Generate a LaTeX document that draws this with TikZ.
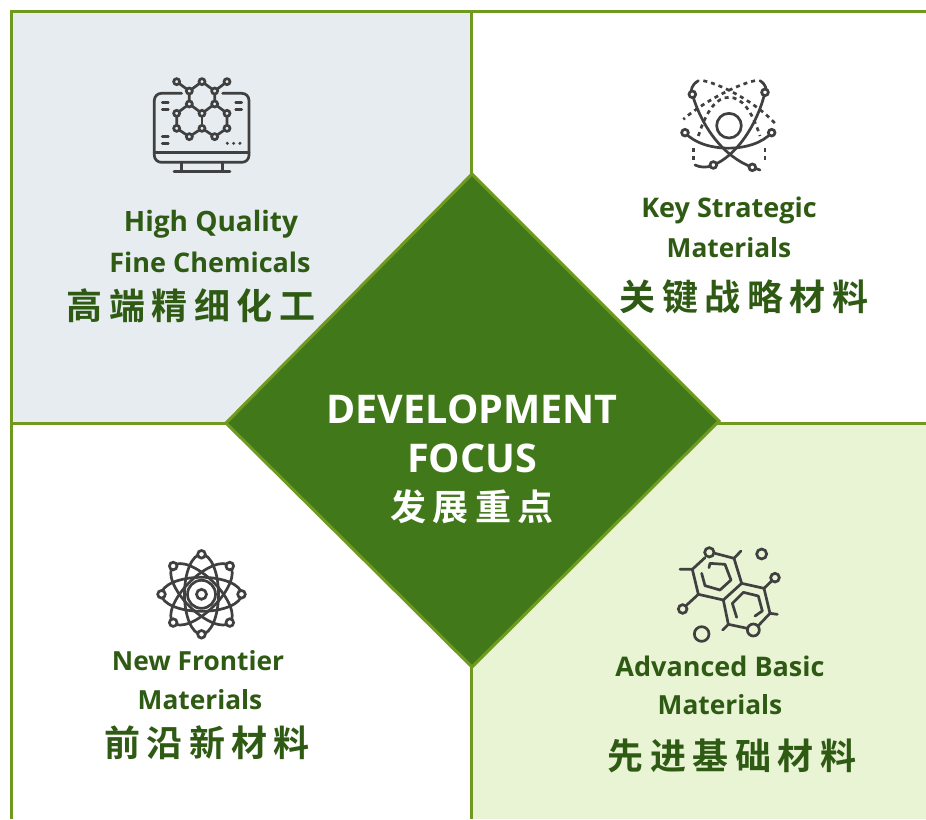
\documentclass[tikz,border=0pt]{standalone}
\usepackage{fontspec}
\setmainfont{Open Sans}
\newfontfamily\cjk[LetterSpace=18,BoldFont={Noto Sans CJK SC Bold}]{Noto Sans CJK SC}
\definecolor{rule}{HTML}{6F9A1F}
\definecolor{dia}{HTML}{41791A}
\definecolor{lab}{HTML}{2E5A13}
\definecolor{panelA}{HTML}{E6ECEF}
\definecolor{panelB}{HTML}{E8F4D4}
\definecolor{ico}{HTML}{404040}
\tikzset{
  rulel/.style={draw=rule,line width=3pt},
  en/.style={font=\bfseries\fontsize{27}{27}\selectfont,text=lab,inner sep=0pt,anchor=center},
  enw/.style={en,font=\bfseries\fontsize{28}{28}\selectfont},
  enm/.style={en,font=\bfseries\fontsize{26.3}{26.3}\selectfont},
  big/.style={font=\bfseries\fontsize{39.5}{39.5}\selectfont,text=white,inner sep=0pt,anchor=center},
  zh/.style={font=\cjk\bfseries\fontsize{36}{36}\selectfont,text=lab,inner sep=0pt,anchor=center},
  icon/.style={draw=ico,line width=2.7pt,line cap=round,line join=round,fill=none},
  dot/.style={draw=ico,line width=2.7pt,fill=none},
  dsh/.style={icon,dash pattern=on 4pt off 4pt,line cap=butt},
  zoomed/.style={x=0.3333pt,y=-0.3333pt}
}
\begin{document}
\begin{tikzpicture}[x=1pt,y=-1pt]
\useasboundingbox (0,0) rectangle (926,819);
\fill[white] (0,0) rectangle (926,819);
% panels
\fill[panelA] (11,11) rectangle (471,423);
\fill[panelB] (471,423) rectangle (926,819);
\draw[rulel] (926,11) -- (11,11) -- (11,819);
\draw[rulel] (471,11) -- (471,819);
\draw[rulel] (11,423) -- (926,423);
% diamond
\path[draw=rule,line width=3pt,fill=dia,line join=miter] (226,423) -- (472,174) -- (719,421) -- (472,667) -- cycle;
% centre text
\node[big] (t1) at (472,409) {DEVELOPMENT};
\node[big] (t2) at (472,458) {FOCUS};
\node[zh,text=white] (t3) at (472,507) {发展重点};
% labels
\node[enw] (a1) at (211,224) {High Quality};
\node[en] (a2) at (210,262) {Fine Chemicals};
\node[zh] (a3) at (191,306) {高端精细化工};
\node[en] (b1) at (729,210) {Key Strategic};
\node[enm] (b2) at (729,248) {Materials};
\node[zh] (b3) at (744,297) {关键战略材料};
\node[enm] (c1) at (198,661) {New Frontier};
\node[enm] (c2) at (200,700) {Materials};
\node[zh] (c3) at (207,743) {前沿新材料};
\node[en] (d1) at (720,666) {Advanced Basic};
\node[enm] (d2) at (720,705) {Materials};
\node[zh] (d3) at (732,756) {先进基础材料};
% icon 1: monitor with molecule
\begin{scope}[shift={(130,60)},zoomed]
\draw[icon,rounded corners=7pt] (155,100) -- (73,100) -- (73,307) -- (357,307) -- (357,100) -- (278,100);
\draw[icon] (73,277) -- (357,277);
\draw[icon] (155,307) -- (155,335) (278,307) -- (278,335) (132,335) -- (300,335);
\foreach \yy in {128,148,230,250} \draw[icon] (97,\yy) -- (115,\yy);
\foreach \yy in {128,148} \draw[icon] (317,\yy) -- (335,\yy);
\foreach \xx in {292,311,330} \fill[ico] (\xx,250) circle[radius=5];
\draw[icon] (140,65) -- (178,93) -- (216,65) -- (254,93) -- (291,65);
\draw[icon] (178,93) -- (178,132) -- (216,160) -- (254,132) -- (254,93);
\draw[icon] (178,132) -- (140,160) -- (140,205) -- (178,230) -- (216,205) -- (254,230) -- (291,205) -- (291,160) -- (254,132);
\draw[icon] (216,160) -- (216,205);
\foreach \p in {(140,65),(216,65),(291,65),(178,93),(254,93),(178,132),(254,132),(140,160),(216,160),(291,160),(140,205),(216,205),(291,205),(178,230),(254,230)}
  \filldraw[draw=ico,line width=2.7pt,fill=panelA] \p circle[radius=9];
\end{scope}
% icon 2: atom with dashed orbits
\begin{scope}[shift={(660,60)},zoomed]
\draw[dsh] (130,62) .. controls (190,75) and (290,130) .. (345,190);
\draw[dsh] (285,62) .. controls (225,75) and (125,130) .. (70,178);
\draw[dsh] (115,228) .. controls (140,150) and (170,112) .. (207,112) .. controls (245,112) and (275,150) .. (300,228);
\draw[dsh] (100,265) -- (100,308);
\draw[dsh] (315,265) -- (315,308);
\draw[icon] (115,62) .. controls (95,75) and (90,90) .. (97,103) .. controls (125,200) and (190,290) .. (277,322) -- (300,330);
\draw[icon] (300,62) .. controls (320,75) and (320,90) .. (315,97) .. controls (290,200) and (225,290) .. (160,315) .. controls (140,325) and (120,322) .. (105,315);
\draw[icon] (75,218) .. controls (130,280) and (280,280) .. (335,218);
\draw[icon] (207,197) circle[radius=37];
\foreach \p in {(97,103),(315,97),(75,218),(335,218),(160,315),(277,322)}
  \filldraw[draw=ico,line width=2.7pt,fill=white] \p circle[radius=10];
\end{scope}
% icon 3: atom with ellipses
\begin{scope}[shift={(201.5,594.3)},x=1pt,y=-1pt]
\foreach \a in {0,45,90,135}
  \draw[dot,rotate=\a] (0,0) ellipse[x radius=40,y radius=17];
\draw[dot] (0,0) circle[radius=14];
\draw[dot] (0,0) circle[radius=5];
\foreach \a in {0,45,...,315}
  \filldraw[draw=ico,line width=2.7pt,fill=white] (\a:40) circle[radius=3.8];
\end{scope}
% icon 4: fused rings
\begin{scope}[shift={(660,535)},zoomed]
\draw[icon] (135,68) -- (97,103) -- (115,178) -- (190,195) -- (245,145) -- (222,70) -- (165,55);
\draw[icon] (245,145) -- (312,160) -- (330,235) -- (295,272);
\draw[icon] (262,280) -- (205,268) -- (190,195);
\draw[icon] (147,98) -- (150,85) -- (195,88) -- (213,135) -- (180,165) -- (135,152) -- (125,115);
\draw[icon] (230,247) -- (217,205) -- (250,172) -- (295,183) -- (307,228) -- (285,243);
\draw[icon] (222,70) -- (243,48) (97,103) -- (60,103) (115,178) -- (78,212) (312,160) -- (335,138) (330,235) -- (352,238) (205,268) -- (188,285);
\draw[dot] (305,57) circle[radius=15];
\draw[dot] (125,297) circle[radius=22];
\draw[dot] (68,222) circle[radius=13];
\draw[dot] (345,128) circle[radius=13];
\draw[dot] (148,52) circle[radius=14];
\draw[dot] (280,285) circle[radius=18];
\end{scope}
\end{tikzpicture}
\end{document}
